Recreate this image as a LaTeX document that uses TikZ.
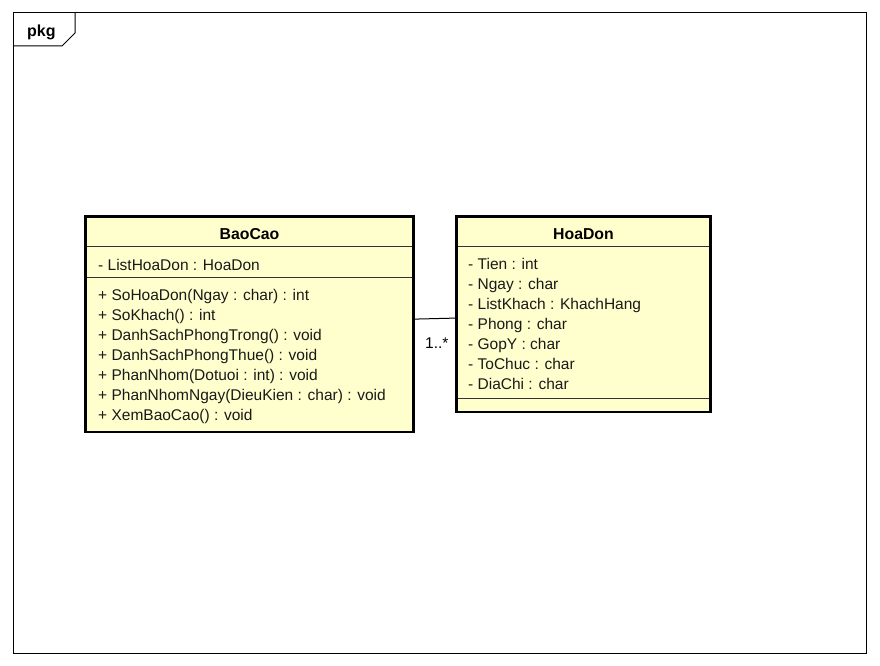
\documentclass[tikz,border=0pt]{standalone}
\usepackage{fontspec}
\setmainfont{Liberation Sans}
\begin{document}
\begin{tikzpicture}[x=1pt,y=-1pt,
  classbox/.style={draw=black, line width=2.8pt, fill=clsfill, inner sep=0pt},
  sepline/.style={draw=black!80, line width=1pt},
  member/.style={anchor=base west, inner sep=0pt, font=\fontsize{15.5}{18}\selectfont, text=black!90},
  ctitle/.style={anchor=base, inner sep=0pt, font=\fontsize{15.8}{18}\selectfont\bfseries},
  frameline/.style={draw=black, line width=1pt}]
\definecolor{clsfill}{RGB}{255,255,206}
\useasboundingbox (0,0) rectangle (880,666);
% package frame
\draw[frameline] (13,13) rectangle (866,653);
\draw[frameline] (13,46) -- (62,46) -- (75,33) -- (75,13);
\node[anchor=base west, inner sep=0pt, font=\fontsize{16}{18}\selectfont\bfseries] (pkg) at (27,36.5) {pkg};
% BaoCao
\node[classbox, minimum width=328pt, minimum height=215.7pt] (bc) at (249.5,324.1) {};
\draw[sepline] (87,246.5) -- (412,246.5);
\draw[sepline] (87,277) -- (412,277);
\node[ctitle] (bct) at (249.5,239) {BaoCao};
\node[member] (bca1) at (98,270) {- ListHoaDon : HoaDon};
\node[member] (bcm1) at (98,300) {+ SoHoaDon(Ngay : char) : int};
\node[member] (bcm2) at (98,320) {+ SoKhach() : int};
\node[member] (bcm3) at (98,340) {+ DanhSachPhongTrong() : void};
\node[member] (bcm4) at (98,360) {+ DanhSachPhongThue() : void};
\node[member] (bcm5) at (98,380) {+ PhanNhom(Dotuoi : int) : void};
\node[member] (bcm6) at (98,400) {+ PhanNhomNgay(DieuKien : char) : void};
\node[member] (bcm7) at (98,420) {+ XemBaoCao() : void};
% HoaDon
\node[classbox, minimum width=254pt, minimum height=195.7pt] (hd) at (583.5,314.1) {};
\draw[sepline] (458,246.5) -- (709,246.5);
\draw[sepline] (458,398) -- (709,398);
\node[ctitle] (hdt) at (583.5,239) {HoaDon};
\node[member] (hda1) at (468,269) {- Tien : int};
\node[member] (hda2) at (468,289) {- Ngay : char};
\node[member] (hda3) at (468,309) {- ListKhach : KhachHang};
\node[member] (hda4) at (468,329) {- Phong : char};
\node[member] (hda5) at (468,349) {- GopY : char};
\node[member] (hda6) at (468,369) {- ToChuc : char};
\node[member] (hda7) at (468,389) {- DiaChi : char};
% association
\draw[line width=1pt] ([yshift=5pt]bc.east) -- ([yshift=-4pt]hd.west);
\node[anchor=base west, inner sep=0pt, font=\fontsize{15.5}{18}\selectfont] (mult) at (425,348.5) {1..*};
\end{tikzpicture}
\end{document}
